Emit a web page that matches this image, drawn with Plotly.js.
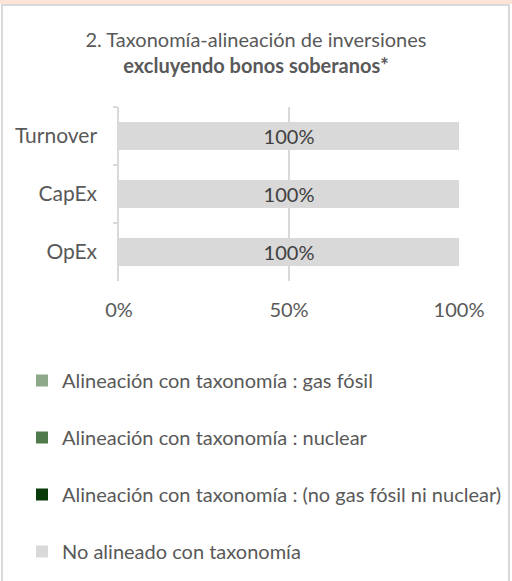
<!DOCTYPE html>
<html>
<head>
<meta charset="utf-8">
<script src="https://cdn.plot.ly/plotly-3.0.1.min.js"></script>
<style>
  html, body { margin:0; padding:0; background:#fff; }
  #wrap { position:relative; width:512px; height:581px; overflow:hidden; }
  #chart { position:absolute; left:0; top:0; width:512px; height:581px; }
  #strip { position:absolute; left:0; top:0; width:512px; height:4px; background:#FCE4D6; pointer-events:none; }
  #card { position:absolute; left:1px; top:4px; width:509px; height:590px; border:2px solid #D9D9D9; box-sizing:border-box; pointer-events:none; }
</style>
</head>
<body>
<div id="wrap">
  <div id="chart"></div>
  <div id="strip"></div>
  <div id="card"></div>
</div>
<script>
const categories = ['Turnover', 'CapEx', 'OpEx'];
const seriesNames = [
  'Alineación con taxonomía : gas fósil',
  'Alineación con taxonomía : nuclear',
  'Alineación con taxonomía : (no gas fósil ni nuclear)',
  'No alineado con taxonomía'
];
const gasFosil = [0, 0, 0];
const nuclear = [0, 0, 0];
const noGasNiNuclear = [0, 0, 0];
const noAlineado = [1, 1, 1];
const seriesColors = ['#8DA98A', '#4F7A4C', '#0A3A0A', '#D9D9D9'];
const xTickVals = [0, 0.5, 1];
const xTickText = ['0%', '50%', '100%'];

const FONT = 'Lato, "Open Sans", sans-serif';
const GRAY = '#595959';
const allValues = [gasFosil, nuclear, noGasNiNuclear, noAlineado];

const traces = allValues.map((vals, i) => {
  const t = {
    type: 'bar',
    orientation: 'h',
    name: seriesNames[i],
    y: categories,
    x: vals,
    marker: { color: seriesColors[i] },
    legendgroup: 'g' + i,
    hoverinfo: 'x+y+name'
  };
  if (i === 3) {
    t.text = vals.map(v => Math.round(v * 100) + '%');
    t.textposition = 'inside';
    t.insidetextanchor = 'middle';
    t.constraintext = 'none';
    t.textfont = { family: FONT, size: 20, color: '#404040' };
  }
  return t;
});

const layout = {
  width: 512,
  height: 581,
  paper_bgcolor: '#ffffff',
  plot_bgcolor: '#ffffff',
  font: { family: FONT, size: 20, color: GRAY },
  margin: { l: 119, r: 53, t: 107, b: 300, autoexpand: false },
  barmode: 'stack',
  bargap: 0.52,
  title: {
    text: '2. Taxonomía-alineación de inversiones<br><b>excluyendo bonos soberanos*</b>',
    font: { family: FONT, size: 20, color: GRAY },
    x: 0.5, xanchor: 'center',
    xref: 'container', yref: 'container',
    y: 1 - 47 / 581, yanchor: 'top'
  },
  xaxis: {
    range: [0, 1],
    tickvals: xTickVals,
    ticktext: xTickText,
    showgrid: true,
    gridcolor: '#D9D9D9',
    gridwidth: 1.5,
    zeroline: false,
    showline: false,
    ticks: '',
    ticklabelstandoff: 15,
    tickfont: { family: FONT, size: 20, color: GRAY },
    fixedrange: true
  },
  yaxis: {
    type: 'category',
    autorange: 'reversed',
    showline: true,
    linecolor: '#D9D9D9',
    linewidth: 1.5,
    ticks: 'outside',
    tickson: 'boundaries',
    ticklen: 4,
    tickcolor: '#D9D9D9',
    tickwidth: 1.5,
    ticklabelstandoff: 16,
    showgrid: false,
    tickfont: { family: FONT, size: 21, color: GRAY },
    fixedrange: true
  },
  showlegend: true,
  legend: {
    orientation: 'v',
    traceorder: 'grouped',
    tracegroupgap: 28,
    xref: 'container', yref: 'container',
    x: 22 / 512, xanchor: 'left',
    y: 1 - 361 / 581, yanchor: 'top',
    font: { family: FONT, size: 20, color: GRAY },
    bgcolor: 'rgba(0,0,0,0)'
  }
};

Plotly.newPlot('chart', traces, layout, { displayModeBar: false });
</script>
</body>
</html>
